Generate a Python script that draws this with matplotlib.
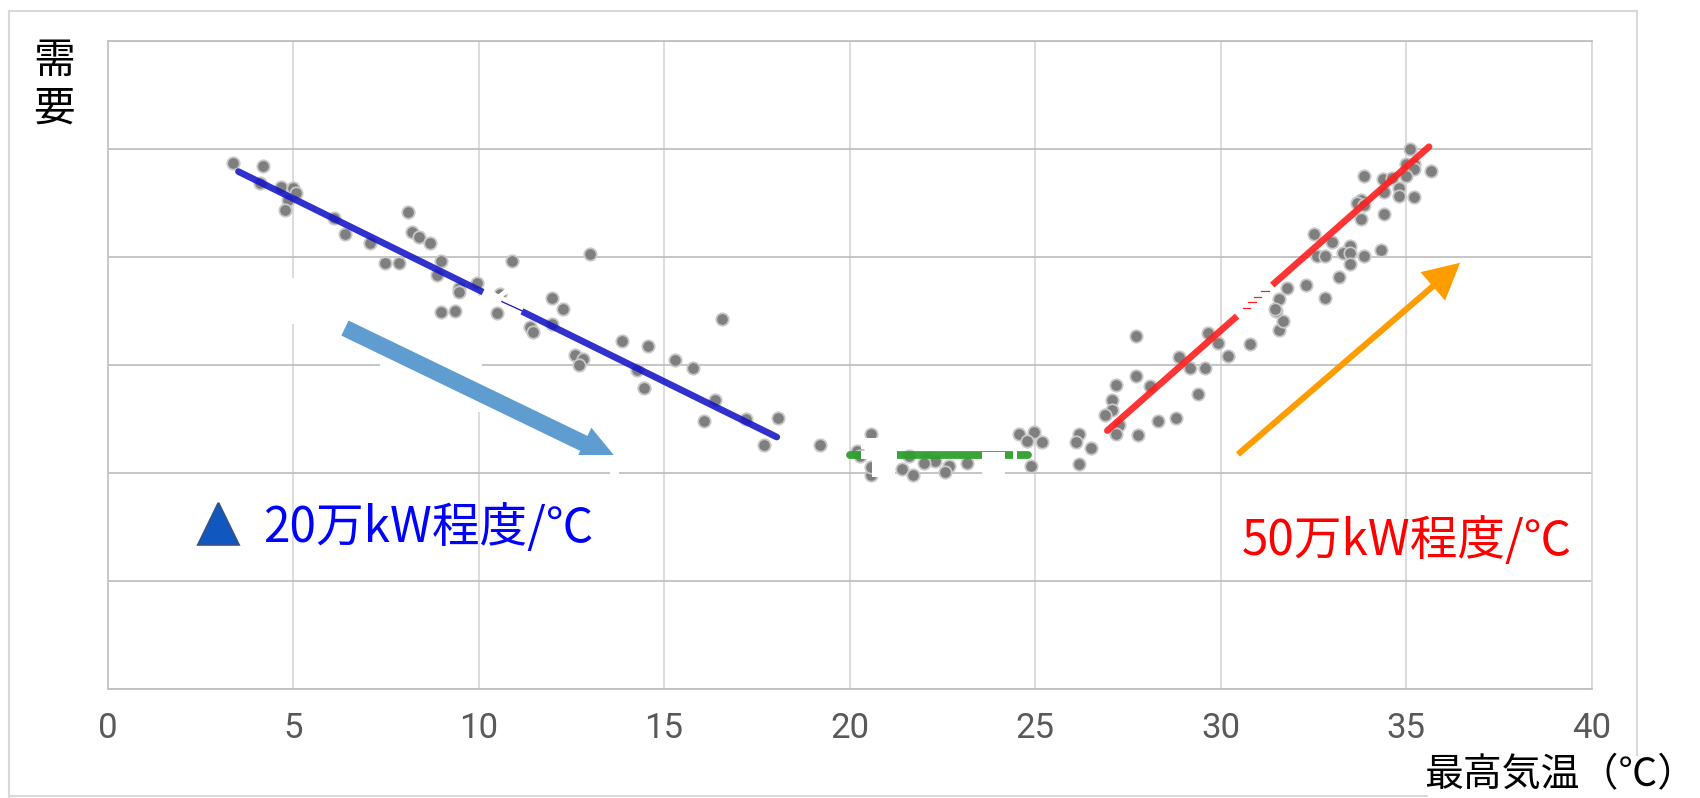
import matplotlib
matplotlib.use('Agg')
import matplotlib.pyplot as plt
from matplotlib.lines import Line2D
from matplotlib.patches import Polygon, Rectangle

plt.rcParams['font.family'] = ['Noto Sans CJK JP', 'DejaVu Sans']

W, H = 1700, 798

# demand has no scale in the original, so it is in gridline units (0-6)
winter_temp = [3.37, 4.20, 4.11, 4.69, 4.99, 5.09, 4.87, 4.78, 6.11, 6.40, 7.08, 7.47, 7.86, 8.11, 8.21, 8.40,
               8.70, 8.99, 8.89, 9.48, 9.48, 9.97, 10.89, 8.99, 9.37, 11.97, 12.27, 11.39, 11.48, 11.97, 10.58, 10.50,
               13.00, 13.88, 14.56, 12.61, 12.81, 12.71, 14.26, 14.47, 15.30, 15.79, 16.57, 16.37, 16.08, 17.21,
               18.08, 17.70]
winter_demand = [4.87, 4.84, 4.68, 4.65, 4.64, 4.59, 4.53, 4.43, 4.36, 4.21, 4.13, 3.94, 3.94, 4.42, 4.23, 4.18,
                 4.13, 3.96, 3.83, 3.71, 3.67, 3.76, 3.96, 3.49, 3.50, 3.62, 3.52, 3.35, 3.30, 3.38, 3.66, 3.48,
                 4.03, 3.22, 3.17, 3.09, 3.05, 3.00, 2.95, 2.78, 3.04, 2.97, 3.42, 2.67, 2.48, 2.50,
                 2.51, 2.26]

mild_temp = [19.20, 20.58, 20.19, 20.28, 21.60, 22.10, 22.30, 22.00, 22.68, 22.58, 23.18, 21.41, 21.70, 20.58, 20.58,
             24.88, 24.58, 24.98, 24.78, 25.18, 26.19, 26.10, 26.50, 26.19]
mild_demand = [2.26, 2.36, 2.20, 2.15, 2.15, 2.13, 2.11, 2.09, 2.06, 2.01, 2.09, 2.03, 1.98, 1.98, 2.05,
               2.06, 2.36, 2.38, 2.29, 2.28, 2.36, 2.28, 2.23, 2.08]

summer_temp = [27.18, 27.07, 27.07, 26.89, 27.27, 27.18, 27.71, 27.71, 27.78, 29.67, 29.92, 30.80, 30.21, 28.89,
               29.19, 29.58, 28.11, 29.39, 28.79, 28.31, 31.59, 31.69, 31.49, 35.10, 34.99, 35.21, 35.21, 35.00,
               35.68, 33.88, 34.39, 34.61, 34.42, 34.81, 34.81, 35.21, 33.78, 33.67, 33.88, 34.42, 33.79, 32.51,
               33.00, 33.49, 33.29, 33.49, 34.32, 33.88, 32.61, 32.81, 33.49, 33.19, 32.31, 32.81, 31.79, 31.59,
               31.48]
summer_demand = [2.81, 2.67, 2.58, 2.53, 2.44, 2.36, 3.27, 2.90, 2.35, 3.29, 3.20, 3.19, 3.08, 3.07,
                 2.97, 2.97, 2.80, 2.73, 2.51, 2.48, 3.32, 3.41, 3.50, 5.00, 4.86, 4.86, 4.81, 4.75,
                 4.80, 4.75, 4.72, 4.73, 4.60, 4.64, 4.56, 4.55, 4.53, 4.50, 4.48, 4.40, 4.35, 4.21,
                 4.14, 4.10, 4.04, 4.04, 4.06, 4.01, 4.01, 4.01, 3.93, 3.81, 3.74, 3.62, 3.71, 3.61,
                 3.52]

winter_fit_x = [3.53, 18.04]
winter_fit_y = [4.79, 2.33]
mild_fit_x = [20.0, 24.8]
mild_fit_y = [2.16, 2.16]
summer_fit_x = [26.95, 35.62]
summer_fit_y = [2.39, 5.02]

x_ticks = [0, 5, 10, 15, 20, 25, 30, 35, 40]
y_grid = [0, 1, 2, 3, 4, 5, 6]

fig = plt.figure(figsize=(W / 100, H / 100), dpi=100)
ax = fig.add_axes([107.5 / W, (H - 688.5) / H, 1484 / W, 647.5 / H])
ax.set_xlim(0, 40)
ax.set_ylim(0, 6)
ax.set_xticks(x_ticks)
ax.set_yticks(y_grid)
ax.set_yticklabels([])
ax.tick_params(length=0, pad=17)
ax.tick_params(axis='x', labelsize=25, labelcolor='#595959')
for lab in ax.get_xticklabels():
    lab.set_family('Roboto')
ax.grid(True, axis='x', color='#d9d9d9', lw=1.3, zorder=1)
ax.grid(True, axis='y', color='#c0c0c0', lw=1.3, zorder=1)
ax.set_axisbelow(True)
for side, col in [('left', '#c4c4c4'), ('bottom', '#c0c0c0'), ('top', '#c0c0c0'), ('right', '#d9d9d9')]:
    ax.spines[side].set_color(col)
    ax.spines[side].set_linewidth(1.3)


def white_box(x0, y0, x1, y1, z):
    ax.add_patch(Rectangle((x0, y0), x1 - x0, y1 - y0, fc='white', ec='none', zorder=z))


def white_stroke(xs, ys, lw):
    ax.plot(xs, ys, color='white', lw=lw, zorder=4.5, solid_capstyle='butt')


# erased areas under the points
white_box(4.25, 3.38, 8.69, 3.80, 1.5)
white_box(8.69, 3.38, 10.1, 3.64, 1.5)
white_box(7.34, 2.56, 10.1, 3.38, 1.5)

ax.scatter(winter_temp + mild_temp + summer_temp, winter_demand + mild_demand + summer_demand,
           s=80, c='#7f7f7f', edgecolors='#c8c8c8', linewidths=1.3, zorder=2)

ax.plot(winter_fit_x, winter_fit_y, color='#1414c8', alpha=0.88, lw=4.8, solid_capstyle='round', zorder=3)
ax.plot(mild_fit_x, mild_fit_y, color='#2ca02c', alpha=0.95, lw=5.6, solid_capstyle='round', zorder=3)
ax.plot(summer_fit_x, summer_fit_y, color='#ff1e1e', alpha=0.9, lw=4.8, solid_capstyle='round', zorder=3)

ax.annotate('', xy=(13.75, 2.12), xytext=(6.4, 3.34), zorder=3,
            arrowprops=dict(arrowstyle='simple,head_width=25,head_length=27,tail_width=12', mutation_scale=1,
                            color='#5f9dd0', lw=0, shrinkA=0, shrinkB=0))
ax.annotate('', xy=(36.46, 3.945), xytext=(30.47, 2.17), zorder=3,
            arrowprops=dict(arrowstyle='simple,head_width=27,head_length=26,tail_width=4.4', mutation_scale=1,
                            color='#ff9c00', lw=0, shrinkA=0, shrinkB=0))

# bottom of the blue arrow is cut off in the original
white_box(12.3, 2.02, 14.1, 2.16, 4)
white_box(13.55, 1.95, 13.8, 2.05, 4)

# leftovers of erased labels on the fit lines
white_stroke([10.12, 11.17], [3.67, 3.495], 7.5)
white_stroke([10.12, 10.98], [3.50, 3.75], 3.5)
white_stroke([10.2, 10.9], [3.72, 3.48], 3.5)
ax.plot([10.63, 11.17], [3.585, 3.50], color='#1414c8', lw=0.9, zorder=5)

white_stroke([30.45, 31.39], [3.45, 3.74], 7.5)
for cx, cy in [(31.2, 3.68), (31.0, 3.63), (30.85, 3.58), (30.7, 3.53)]:
    ax.plot([cx - 0.1, cx + 0.1], [cy, cy], color='#ff1e1e', lw=0.9, zorder=5)

white_box(20.6, 1.96, 21.23, 2.21, 4)
white_box(23.57, 1.97, 24.2, 2.19, 4)
white_box(20.3, 2.13, 20.75, 2.20, 4)
white_box(21.0, 2.13, 21.28, 2.20, 4)
white_box(24.42, 2.13, 24.52, 2.20, 4)
white_box(20.3, 2.22, 20.85, 2.32, 4)

ax.add_patch(Polygon([(2.99, 1.72), (2.44, 1.332), (3.54, 1.332)], closed=True,
                     fc='#1058c0', ec='#2f528f', lw=1.5, zorder=5))


def put_text(px, py, s, size, color, ha='left'):
    fig.text(px / W, 1 - py / H, s, fontsize=size, color=color, ha=ha, va='center')


put_text(263, 528, '20万kW程度/℃', 34.3, '#0000ff')
put_text(1242, 541, '50万kW程度/℃', 34.3, '#ff0000')
put_text(1424, 775, '最高気温（℃）', 28, 'black')
put_text(54, 85, '需\n要', 30, 'black', ha='center')

# outer frame of the slide, open at the lower right
for xs, ys in [([9, 9], [11, 798]), ([9, 1637], [11, 11]), ([1637, 1637], [11, 755]), ([9, 1427], [796, 796])]:
    fig.add_artist(Line2D([x / W for x in xs], [1 - y / H for y in ys], color='#d9d9d9', lw=1.5))

fig.savefig('out.png', dpi=100)
